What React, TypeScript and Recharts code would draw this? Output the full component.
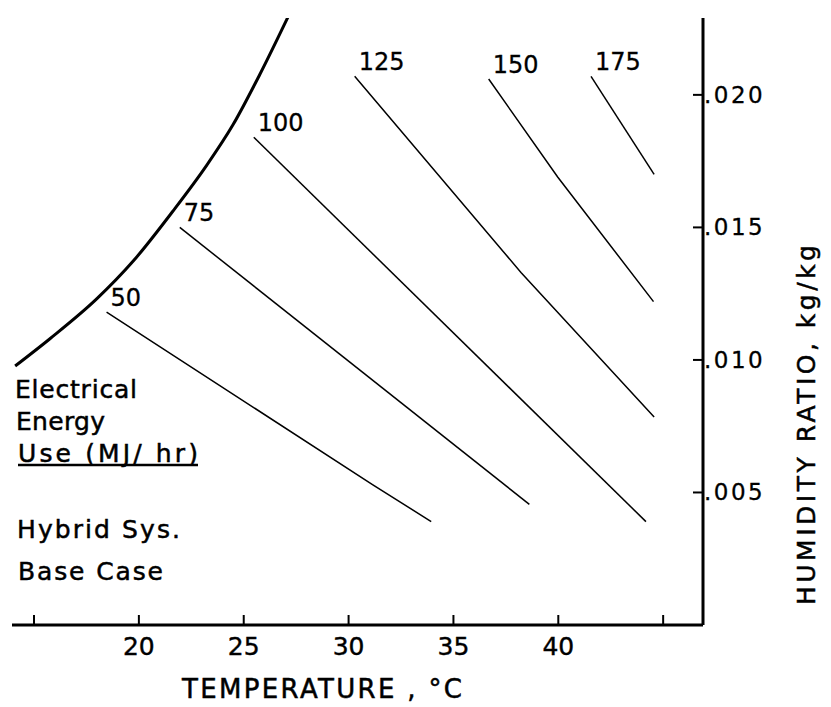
import { LineChart, Line, XAxis, YAxis, Customized, Label } from "recharts";

// temperature (°C) vs humidity ratio (kg/kg)
const saturation = [
  { t: 14.1, w: 0.00977 },
  { t: 15.76, w: 0.0108 },
  { t: 18.0, w: 0.01231 },
  { t: 19.71, w: 0.01371 },
  { t: 21.62, w: 0.01561 },
  { t: 23.24, w: 0.01735 },
  { t: 24.48, w: 0.01886 },
  { t: 25.76, w: 0.02076 },
  { t: 27.19, w: 0.02307 },
];

const use50 = [
  { t: 18.46, w: 0.0118 },
  { t: 31.14, w: 0.0053 },
  { t: 33.94, w: 0.0039 },
];
const use75 = [
  { t: 21.95, w: 0.015 },
  { t: 38.62, w: 0.00455 },
];
const use100 = [
  { t: 25.48, w: 0.0184 },
  { t: 44.18, w: 0.0039 },
];
const use125 = [
  { t: 30.29, w: 0.0207 },
  { t: 38.22, w: 0.0133 },
  { t: 44.57, w: 0.00785 },
];
const use150 = [
  { t: 36.68, w: 0.0206 },
  { t: 39.97, w: 0.0169 },
  { t: 44.54, w: 0.0122 },
];
const use175 = [
  { t: 41.56, w: 0.0207 },
  { t: 44.57, w: 0.017 },
];

const energyLines = [
  { name: "50", data: use50 },
  { name: "75", data: use75 },
  { name: "100", data: use100 },
  { name: "125", data: use125 },
  { name: "150", data: use150 },
  { name: "175", data: use175 },
];

const tempTicks = [15, 20, 25, 30, 35, 40, 45];
const humidityTicks = [0.005, 0.01, 0.015, 0.02];

const FONT = "'DejaVu Sans', sans-serif";
const ink = { fill: "#000", stroke: "#000", strokeWidth: 0.5 };

const lineTag = (text: string) => (props: any) => {
  if (props.index !== 0) return null;
  return (
    <text x={props.x + 4} y={props.y - 6} fontFamily={FONT} fontSize={24} {...ink} strokeWidth={0.3}>
      {text}
    </text>
  );
};

function HumidityTick(props: any) {
  const label = props.payload.value.toFixed(3).replace(/^0/, "");
  return (
    <g>
      <line x1={693} x2={703} y1={props.y} y2={props.y} stroke="#000" strokeWidth={2} />
      <text
        x={704}
        y={props.y + 8}
        fontFamily={FONT}
        fontSize={23}
        letterSpacing={2.5}
        {...ink}
        strokeWidth={0.3}
      >
        {label}
      </text>
    </g>
  );
}

function Notes() {
  const base = { fontFamily: FONT, fontSize: 25, lengthAdjust: "spacing" as const, ...ink };
  return (
    <g>
      <text x={15} y={398} textLength={122} {...base}>Electrical</text>
      <text x={16} y={430} textLength={89} {...base}>Energy</text>
      <text x={18} y={462} textLength={180} {...base}>Use (MJ/ hr)</text>
      <line x1={18} x2={198} y1={465} y2={465} stroke="#000" strokeWidth={2.5} />
      <text x={17} y={538} textLength={163} {...base}>Hybrid Sys.</text>
      <text x={18} y={580} textLength={145} {...base}>Base Case</text>
    </g>
  );
}

export default function App() {
  return (
    <div style={{ position: "absolute", left: 0, top: 0, background: "#fff" }}>
      <LineChart
        width={831}
        height={707}
        margin={{ top: 18, right: 0, bottom: 0, left: 12 }}
      >
        <XAxis
          dataKey="t"
          type="number"
          domain={[13.95, 46.9]}
          allowDataOverflow
          ticks={tempTicks}
          tickFormatter={(v: number) => (v === 15 || v === 45 ? "" : String(v))}
          height={82}
          axisLine={{ stroke: "#000", strokeWidth: 3 }}
          tickLine={{ stroke: "#000", strokeWidth: 2 }}
          tickSize={-10}
          tickMargin={22}
          tick={{ fill: "#000", stroke: "#000", strokeWidth: 0.4, fontSize: 25, fontFamily: FONT }}
        >
          <Label
            content={() => (
              <text
                x={182}
                y={698}
                textLength={280}
                lengthAdjust="spacing"
                fontFamily={FONT}
                fontSize={26}
                {...ink}
              >
                TEMPERATURE , °C
              </text>
            )}
          />
        </XAxis>
        <YAxis
          dataKey="w"
          type="number"
          orientation="right"
          domain={[0, 0.0229]}
          allowDataOverflow
          ticks={humidityTicks}
          width={128}
          axisLine={{ stroke: "#000", strokeWidth: 3 }}
          tickLine={false}
          tick={<HumidityTick />}
        >
          <Label
            content={() => (
              <text
                transform="translate(815, 605) rotate(-90)"
                textLength={360}
                lengthAdjust="spacing"
                fontFamily={FONT}
                fontSize={25}
                {...ink}
              >
                HUMIDITY RATIO,   kg/kg
              </text>
            )}
          />
        </YAxis>
        <Line
          data={saturation}
          dataKey="w"
          type="monotone"
          stroke="#000"
          strokeWidth={3}
          dot={false}
          isAnimationActive={false}
        />
        {energyLines.map((s) => (
          <Line
            key={s.name}
            data={s.data}
            dataKey="w"
            type="linear"
            stroke="#000"
            strokeWidth={1.5}
            dot={false}
            label={lineTag(s.name)}
            isAnimationActive={false}
          />
        ))}
        <Customized component={Notes} />
      </LineChart>
    </div>
  );
}
